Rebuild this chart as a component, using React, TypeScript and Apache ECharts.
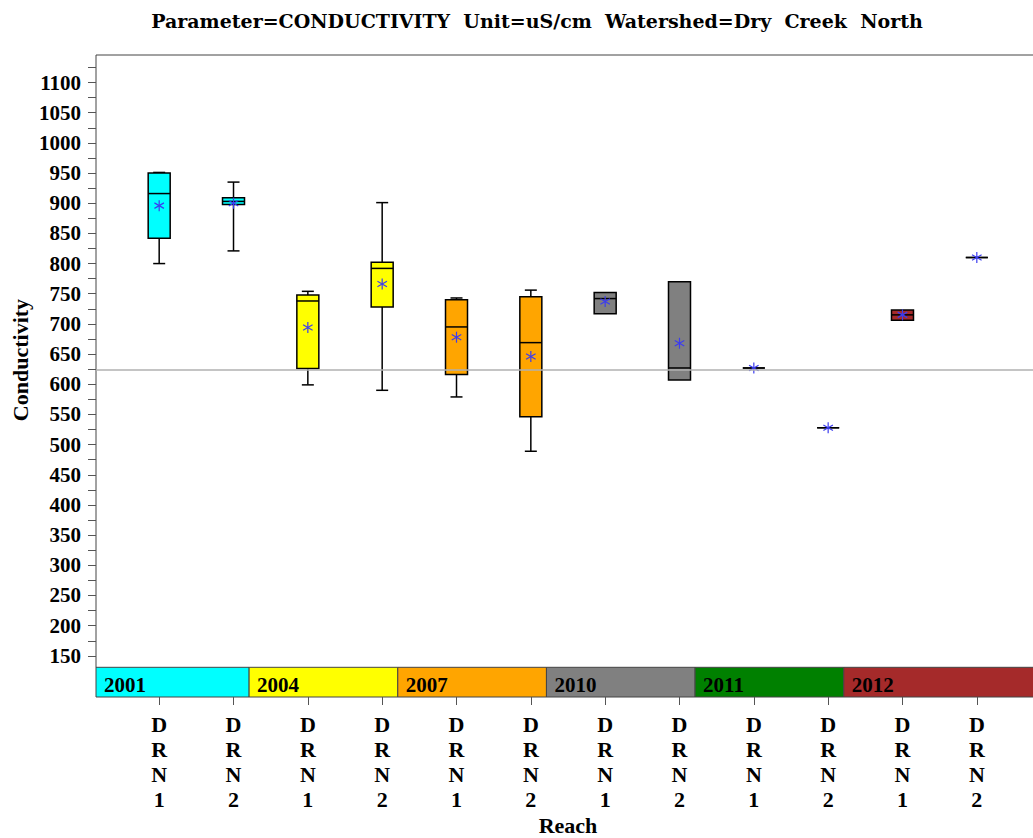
import React, { useEffect, useRef } from "react";
import * as echarts from "echarts";

const years = ["2001", "2004", "2007", "2010", "2011", "2012"];
const yearColors = ["#00ffff", "#ffff00", "#ffa500", "#808080", "#008000", "#a52a2a"];
const bandStarts = [0.15, 2.21, 4.21, 6.21, 8.21, 10.21];
const bandEnds = [2.21, 4.21, 6.21, 8.21, 10.21, 12.85];

const reachLabels = ["DRN1", "DRN2", "DRN1", "DRN2", "DRN1", "DRN2", "DRN1", "DRN2", "DRN1", "DRN2", "DRN1", "DRN2"];
const positions = [1, 2, 3, 4, 5, 6, 7, 8, 9, 10, 11, 12];
const yearIndex = [0, 0, 1, 1, 2, 2, 3, 3, 4, 4, 5, 5];

const mins = [800, 821, 599, 590, 579, 489, 717, 607, 627, 528, 706, 810];
const q1s = [842, 898, 626, 728, 616, 546, 717, 607, 627, 528, 706, 810];
const medians = [916, 903, 738, 792, 695, 669, 742, 627, 627, 528, 715, 810];
const q3s = [950, 909, 748, 802, 740, 745, 752, 770, 627, 528, 723, 810];
const maxs = [951, 935, 754, 901, 743, 756, 752, 770, 627, 528, 723, 810];
const means = [896, 900, 694, 766, 678, 646, 737, 668, 627, 528, 715, 810];

const referenceValue = 624;

const yMin = 81.8;
const yMax = 1145.6;
const bandTop = 131;
const xMin = 0.15;
const xMax = 12.85;

const yTickValues: number[] = [];
for (let v = 150; v <= 1125; v += 25) yTickValues.push(v);
const yLabelValues: number[] = [];
for (let v = 150; v <= 1100; v += 50) yLabelValues.push(v);

const FONT = "'Liberation Serif', 'DejaVu Serif', serif";
const TITLE_FONT = "'DejaVu Serif', 'Liberation Serif', serif";

export default function App() {
  const ref = useRef<HTMLDivElement>(null);
  useEffect(() => {
    if (!ref.current) return;
    const chart = echarts.init(ref.current, undefined, { renderer: "svg" });

    const boxData = positions.map((x, i) => [x, mins[i], q1s[i], medians[i], q3s[i], maxs[i], means[i], yearIndex[i]]);
    const bandData = years.map((y, i) => [bandStarts[i], bandEnds[i], i]);

    const option: any = {
      animation: false,
      backgroundColor: "#ffffff",
      grid: {
        left: 96,
        top: 55,
        right: 0,
        bottom: 141,
        show: true,
        borderColor: "#444444",
        borderWidth: 1,
        backgroundColor: "transparent",
      },
      xAxis: {
        type: "value",
        min: xMin,
        max: xMax,
        splitLine: { show: false },
        axisLine: { show: false },
        axisTick: {
          show: true,
          customValues: positions,
          length: 8,
          lineStyle: { color: "#555555", width: 1 },
        },
        axisLabel: {
          customValues: positions,
          formatter: (v: number) => {
            const idx = positions.indexOf(Math.round(v));
            if (idx < 0) return "";
            return reachLabels[idx].split("").join("\n");
          },
          fontFamily: FONT,
          fontWeight: "bold",
          fontSize: 22,
          lineHeight: 25,
          color: "#000",
          margin: 15,
          verticalAlign: "top",
        },
      },
      yAxis: {
        type: "value",
        min: yMin,
        max: yMax,
        splitLine: { show: false },
        axisLine: { show: false },
        axisTick: {
          show: true,
          customValues: yTickValues,
          length: 8,
          lineStyle: { color: "#555555", width: 1 },
        },
        axisLabel: {
          customValues: yLabelValues,
          formatter: (v: number) => String(Math.round(v)),
          fontFamily: FONT,
          fontWeight: "bold",
          fontSize: 21,
          color: "#000",
          margin: 15,
        },
      },
      graphic: [
        {
          type: "text",
          x: 537,
          y: 21,
          style: {
            text: "Parameter=CONDUCTIVITY  Unit=uS/cm  Watershed=Dry  Creek  North",
            fontFamily: TITLE_FONT,
            fontWeight: "bold",
            fontSize: 19,
            fill: "#000",
            align: "center",
            verticalAlign: "middle",
          },
        },
        {
          type: "text",
          x: 20,
          y: 360,
          rotation: Math.PI / 2,
          style: {
            text: "Conductivity",
            fontFamily: FONT,
            fontWeight: "bold",
            fontSize: 22,
            fill: "#000",
            align: "center",
            verticalAlign: "middle",
          },
        },
        {
          type: "text",
          x: 568,
          y: 825,
          style: {
            text: "Reach",
            fontFamily: FONT,
            fontWeight: "bold",
            fontSize: 22,
            fill: "#000",
            align: "center",
            verticalAlign: "middle",
          },
        },
      ],
      series: [
        {
          type: "custom",
          name: "bands",
          coordinateSystem: "cartesian2d",
          data: bandData,
          z: 1,
          clip: true,
          encode: { x: [0, 1] },
          renderItem: (params: any, api: any) => {
            const x0 = api.value(0);
            const x1 = api.value(1);
            const idx = api.value(2);
            const p0 = api.coord([x0, bandTop]);
            const p1 = api.coord([x1, yMin]);
            return {
              type: "group",
              children: [
                {
                  type: "rect",
                  shape: { x: p0[0], y: p0[1], width: p1[0] - p0[0], height: p1[1] - p0[1] },
                  style: { fill: yearColors[idx], stroke: "#444444", lineWidth: 1 },
                },
                {
                  type: "text",
                  x: p0[0] + 8,
                  y: p1[1] - 2,
                  style: {
                    text: years[idx],
                    fontFamily: FONT,
                    fontWeight: "bold",
                    fontSize: 21,
                    fill: "#000",
                    align: "left",
                    verticalAlign: "bottom",
                  },
                },
              ],
            };
          },
          markLine: {
            silent: true,
            symbol: "none",
            label: { show: false },
            lineStyle: { color: "#b0b0b0", width: 1.5, type: "solid" },
            data: [{ yAxis: referenceValue }],
          },
        },
        {
          type: "custom",
          name: "boxes",
          coordinateSystem: "cartesian2d",
          data: boxData,
          z: 3,
          encode: { x: 0, y: [1, 2, 3, 4, 5, 6] },
          renderItem: (params: any, api: any) => {
            const x = api.value(0);
            const vMin = api.value(1);
            const vQ1 = api.value(2);
            const vMed = api.value(3);
            const vQ3 = api.value(4);
            const vMax = api.value(5);
            const vMean = api.value(6);
            const ci = api.value(7);
            const cx = api.coord([x, 0])[0];
            const yMinP = api.coord([x, vMin])[1];
            const yQ1 = api.coord([x, vQ1])[1];
            const yMed = api.coord([x, vMed])[1];
            const yQ3 = api.coord([x, vQ3])[1];
            const yMaxP = api.coord([x, vMax])[1];
            const yMean = api.coord([x, vMean])[1];
            const bw = 22;
            const cw = 12;
            const stroke = { stroke: "#000", lineWidth: 1.5 };
            const children: any[] = [];
            if (yMinP - yQ1 > 0.5) {
              children.push({ type: "line", shape: { x1: cx, y1: yQ1, x2: cx, y2: yMinP }, style: stroke });
              children.push({ type: "line", shape: { x1: cx - cw / 2, y1: yMinP, x2: cx + cw / 2, y2: yMinP }, style: stroke });
            }
            if (yQ3 - yMaxP > 0.5) {
              children.push({ type: "line", shape: { x1: cx, y1: yMaxP, x2: cx, y2: yQ3 }, style: stroke });
              children.push({ type: "line", shape: { x1: cx - cw / 2, y1: yMaxP, x2: cx + cw / 2, y2: yMaxP }, style: stroke });
            }
            children.push({
              type: "rect",
              shape: { x: cx - bw / 2, y: yQ3, width: bw, height: Math.max(0, yQ1 - yQ3) },
              style: { fill: yearColors[ci], stroke: "#000", lineWidth: 1.5 },
            });
            children.push({ type: "line", shape: { x1: cx - bw / 2, y1: yMed, x2: cx + bw / 2, y2: yMed }, style: stroke });
            const r = 5.5;
            const starStyle = { stroke: "#3c3cf0", lineWidth: 1.2 };
            children.push({ type: "line", shape: { x1: cx, y1: yMean - r, x2: cx, y2: yMean + r }, style: starStyle });
            const dx = r * Math.cos(Math.PI / 6);
            const dy = r * Math.sin(Math.PI / 6);
            children.push({ type: "line", shape: { x1: cx - dx, y1: yMean - dy, x2: cx + dx, y2: yMean + dy }, style: starStyle });
            children.push({ type: "line", shape: { x1: cx - dx, y1: yMean + dy, x2: cx + dx, y2: yMean - dy }, style: starStyle });
            return { type: "group", children };
          },
        },
      ],
    };

    chart.setOption(option);
    return () => chart.dispose();
  }, []);

  return (
    <div style={{ position: "absolute", left: 0, top: 0, width: 1033, height: 838, overflow: "hidden", background: "#fff" }}>
      <div ref={ref} style={{ position: "absolute", left: 0, top: 0, width: 1040, height: 838 }} />
    </div>
  );
}
